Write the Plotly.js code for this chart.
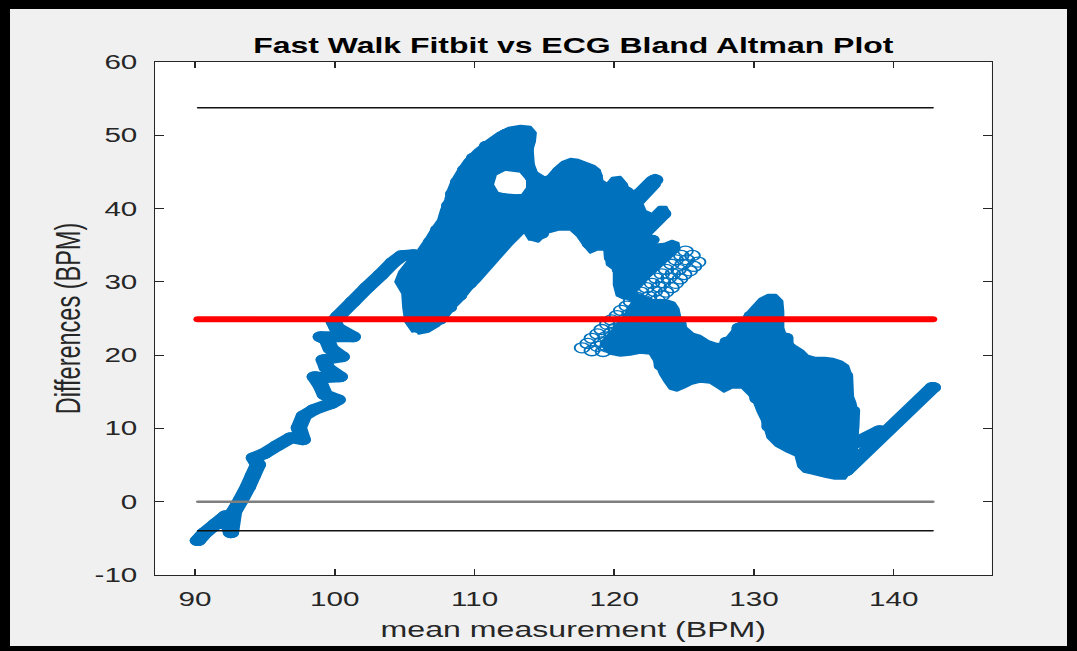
<!DOCTYPE html>
<html>
<head>
<meta charset="utf-8">
<script src="https://cdn.plot.ly/plotly-3.0.1.min.js"></script>
<style>
html,body{margin:0;padding:0;background:#000;width:1077px;height:651px;overflow:hidden;}
#frame{position:absolute;left:10px;top:9px;width:1057px;height:637px;background:#f0f0f0;overflow:hidden;}
#chart{position:absolute;left:0;top:0;width:714px;height:637px;transform:scaleX(1.4804);transform-origin:0 0;}
path.js-line{stroke-linejoin:round !important;stroke-linecap:round !important;}
path.js-fill{fill-rule:nonzero !important;}
</style>
</head>
<body>
<div id="frame"><div id="chart"></div></div>
<script>
// Title and axis texts
const chartTitle = 'Fast Walk Fitbit vs ECG Bland Altman Plot';
const xLabel = 'mean measurement (BPM)';
const yLabel = 'Differences (BPM)';
const xTicks = [90, 100, 110, 120, 130, 140];
const yTicks = [-10, 0, 10, 20, 30, 40, 50, 60];

// Bland-Altman statistics
const meanDifference = 24.9;
const upperLimit = 53.75;
const lowerLimit = -3.95;
const zeroLevel = 0;

// Trajectory of (mean, difference) samples - narrow parts
const meanThin = [90.2, 90.71, 91.5, 92.21, 92.57, 92.79, 93.29, 93.79, 94.14, 94.5, 94.21, 94.93, 95.86, 96.86, 97.71, 97.43, 97.79, 98.5, 99.71, 100.21, 99.29, 99.0, 98.57, 99.14, 100.36, 99.43, 99.21, 100.5, 99.71, 99.43, 99.0, 100.07, 101.29, 100.14, 99.93, 100.29, 101.29, 102.29, 103.29, 104.14, 104.79, 105.64, null, 121.14, 122.93, null, 122.07, 123.5, null, 122.57, 124.14, null, 137.29, 139.0, null, 136.57, 142.8];
const diffThin = [-5.3, -4.23, -3.0, -1.91, -4.23, -1.36, 0.27, 2.05, 3.55, 5.05, 6.0, 6.55, 7.64, 8.73, 8.46, 10.1, 11.73, 12.55, 13.37, 13.92, 14.6, 15.83, 17.05, 16.92, 17.05, 18.28, 19.37, 19.78, 20.87, 22.1, 22.51, 22.51, 22.51, 23.74, 24.56, 25.38, 27.29, 29.2, 30.97, 32.61, 33.56, 33.7, null, 40.38, 43.93, null, 36.56, 39.29, null, 32.33, 34.65, null, 8.05, 9.69, null, 4.23, 15.6];

// Trajectory of (mean, difference) samples - dense parts
const meanWide = [106.07, 107.5, 105.5, 108.21, 105.43, 108.93, 105.29, 109.64, 105.07, 110.36, 105.64, 111.07, 106.29, 111.71, 106.86, 112.36, 107.36, 113.07, 107.93, 113.79, 108.14, 114.14, 108.43, 110.93, 108.79, 110.93, 109.29, 112.21, 109.93, 112.93, 110.86, 113.57, 112.29, 113.43,
  113.71, 113.79, 114.14, 114.71,
  114.79, 115.21, 115.64, 116.07, 116.5, 116.93, 117.36, 117.79, 118.21, 118.64, 119.07, 119.36, 119.79, 120.14,
  120.86, 119.64, 121.43, 119.64, 122.0, 119.71, 122.21, 119.79, 122.71, 119.93, 123.0, 120.0, 122.21, 120.36, 121.79, 120.57, 121.29, 120.64,
  122.21,
  119.5, 119.93, 120.36, 120.79, 121.21, 121.64, 122.07, 122.5, 122.93, 123.36, 123.79, 124.21, 124.64, 125.07, 125.5, 125.93,
  126.36, 126.79, 127.21, 127.64, 128.07, 128.5, 128.93, 129.36, 129.79, 130.21, 130.64, 131.07, 131.43, 131.86, 132.29, 132.71, 133.14, 133.57, 134.0, 134.43, 134.86, 135.29, 135.71, 136.14, 136.57, 136.86, 137.07, 136.57];
const diffWide = [24.01, 24.83, 25.65, 26.47, 27.29, 28.1, 28.92, 29.74, 30.56, 31.38, 32.2, 33.02, 33.83, 34.65, 35.47, 36.29, 37.11, 37.93, 38.74, 39.56, 40.38, 41.06, 42.02, 42.84, 43.66, 44.47, 45.29, 46.11, 46.93, 47.75, 48.57, 49.39, 50.2, 50.2,
  48.02, 45.98, 44.2, 43.11,
  36.56, 43.52, 37.93, 45.02, 38.2, 45.43, 37.52, 44.88, 35.2, 44.47, 35.47, 42.84, 33.29, 43.11,
  42.29, 41.47, 40.65, 39.84, 39.02, 38.2, 37.38, 36.56, 35.74, 34.93, 34.11, 33.29, 32.47, 31.65, 30.83, 30.01, 29.2, 28.51,
  27.29,
  21.56, 21.28, 23.33, 21.56, 24.69, 22.24, 25.38, 21.56, 25.51, 18.55, 26.06, 16.37, 24.28, 16.92, 21.96, 17.74,
  21.28, 17.46, 20.46, 16.37, 21.83, 16.78, 23.74, 16.37, 25.38, 14.05, 26.74, 10.23, 26.88, 8.59, 22.37, 7.91, 19.51, 5.59, 18.83, 5.05, 18.28, 4.5, 18.01, 4.09, 17.19, 4.91, 12.41, 4.23];

// Outer envelope of the densely overlapping sample clouds
const meanCloud = [105.57, 105.07, 104.93, 104.86, 104.36, 104.64, 105.43, 106.0, 106.5, 106.93, 107.43, 107.64, 107.93, 108.14, 108.43, 108.86, 109.36, 110.07, 111.0, 111.71, 112.43, 113.29, 114.0, 114.36, 114.29, 114.07, 114.07,
  113.79, 113.29, 112.21, 111.5, 111.29, 111.64, 112.57, 113.43, 113.79, 113.79, 114.07,
  114.36, 115.07, 115.29, 115.07, 114.71, 114.43, 114.36, 113.93, 113.57, 113.14, 112.57, 112.0, 111.43, 110.86, 110.29, 109.71, 109.14, 108.57, 108.0, 107.43, 106.71, 106.0,
  null,
  114.36, 114.71, 115.29, 115.79, 116.29, 116.86, 117.43, 118.0, 118.57, 118.93, 119.14, 119.5, 119.86, 120.43, 120.86, 121.07,
  121.57, 122.43, 122.93, 123.29, 123.21, 122.0, 122.21, 122.71, 123.21, 123.71, 123.93, 123.57, 122.57, 122.71, 123.57, 124.14, 124.57, 124.64, 124.0, 123.07,
  122.43, 121.86, 121.29, 120.71, 120.21, 120.0, 120.0, 119.5, 119.36, 118.79, 118.29, 117.86, 117.36, 116.86, 116.0, 115.21, 114.57, 114.07, 113.86, 114.0,
  null,
  119.29, 119.43, 119.86, 120.29, 120.71, 121.0, 121.36, 121.86, 122.57, 123.29, 123.86, 124.29, 124.57, 124.71, 125.14, 125.64, 126.14, 126.71, 127.29, 127.71,
  128.29, 129.0, 129.71, 130.43, 131.0, 131.57, 132.0, 132.07, 132.07, 132.36, 132.93, 133.5, 133.86, 134.36, 135.07, 135.64, 136.29, 136.71, 136.93, 136.86,
  137.21, 137.43, 137.43, 137.21, 137.07, 136.86, 136.5, 135.79, 135.07, 134.21, 133.57, 133.21, 133.0, 132.36, 131.57, 131.0, 130.71, 130.29, 130.07, 129.71,
  129.14, 128.43, 127.86, 127.43, 126.86, 126.14, 125.57, 125.0, 124.5, 124.0, 123.64, 123.29, 123.0, 122.57, 121.86, 121.14, 120.43, 119.71, 119.29];
const diffCloud = [23.19, 24.56, 26.47, 28.38, 30.01, 31.38, 33.29, 34.38, 35.74, 37.11, 38.47, 39.84, 41.2, 42.57, 43.93, 45.29, 46.66, 48.02, 49.39, 50.34, 51.02, 51.3, 51.16, 50.34, 49.11, 47.75, 46.38,
  43.93, 45.02, 45.29, 44.61, 43.25, 42.16, 41.75, 41.88, 42.84, 43.93, 46.38,
  45.02, 44.2, 42.57, 40.52, 39.15, 37.79, 36.02, 35.74, 36.83, 36.02, 34.93, 33.7, 32.47, 31.24, 30.01, 28.92, 27.56, 26.47, 25.1, 24.01, 23.19, 22.92,
  null,
  41.88, 43.93, 44.47, 45.57, 46.38, 46.79, 46.66, 46.25, 45.84, 45.29, 43.79, 43.38, 44.2, 44.34, 43.38, 42.16,
  42.57, 44.2, 44.61, 44.07, 43.11, 40.65, 39.7, 39.29, 40.25, 40.25, 39.43, 38.47, 36.56, 35.06, 35.2, 35.61, 35.33, 34.38, 33.29, 31.65,
  30.56, 29.33, 28.24, 27.69, 28.1, 29.6, 31.65, 32.33, 34.38, 34.38, 33.97, 34.93, 36.29, 37.11, 37.11, 36.7, 35.47, 35.74, 37.38, 39.84,
  null,
  21.01, 21.83, 22.92, 24.01, 25.1, 26.47, 27.29, 27.56, 27.29, 27.56, 27.42, 27.15, 26.33, 25.1, 23.74, 22.92, 22.65, 21.96, 21.56, 21.56,
  22.92, 24.56, 26.19, 27.69, 28.24, 28.24, 27.42, 25.92, 23.74, 22.1, 21.28, 20.6, 19.92, 19.65, 19.65, 19.51, 19.1, 18.55, 17.33, 15.28,
  13.64, 11.87, 10.1, 7.78, 5.73, 4.09, 3.14, 3.14, 3.41, 3.82, 4.09, 4.77, 6.28, 6.82, 7.64, 8.73, 10.64, 12.28, 13.37, 14.46,
  15.55, 15.55, 15.01, 15.55, 16.23, 16.37, 16.1, 15.55, 15.14, 15.42, 16.37, 17.46, 18.83, 20.19, 20.33, 20.05, 19.92, 20.19, 20.74];

// Separately visible samples (hollow circles)
const meanRings = [117.7, 118.1, 118.4, 118.8, 119.1, 119.5, 119.8, 120.2, 120.5, 120.9, 121.2, 121.6, 121.9, 122.3, 122.7, 123.0, 123.4, 123.7, 124.1, 124.4, 124.8, 125.1,
  118.4, 118.8, 119.1, 119.4, 119.8, 120.1, 120.5, 120.8, 121.1, 121.5, 121.8, 122.2, 122.5, 122.9, 123.2, 123.5, 123.9, 124.2, 124.6, 124.9, 125.2, 125.6,
  119.2, 119.5, 119.9, 120.2, 120.5, 120.8, 121.1, 121.5, 121.8, 122.1, 122.4, 122.8, 123.1, 123.4, 123.7, 124.1, 124.4, 124.7, 125.0, 125.4, 125.7, 126.0];
const diffRings = [21.0, 21.6, 22.3, 22.9, 23.5, 24.2, 24.8, 25.4, 26.1, 26.7, 27.3, 27.9, 28.6, 29.2, 29.8, 30.5, 31.1, 31.7, 32.4, 33.0, 33.6, 34.2,
  20.6, 21.2, 21.8, 22.5, 23.1, 23.7, 24.3, 24.9, 25.6, 26.2, 26.8, 27.4, 28.0, 28.7, 29.3, 29.9, 30.5, 31.1, 31.7, 32.4, 33.0, 33.6,
  20.5, 21.1, 21.7, 22.2, 22.8, 23.4, 24.0, 24.6, 25.1, 25.7, 26.3, 26.9, 27.5, 28.1, 28.6, 29.2, 29.8, 30.4, 31.0, 31.5, 32.1, 32.7];

const blue = '#0072BD';
const allMeans = meanThin.concat(meanWide, meanRings).filter(v => v !== null);
const xMin = Math.min(...allMeans);
const xMax = Math.max(...allMeans);
const lineX = [xMin, xMax];

const font = 'Liberation Sans, Arial, Helvetica, sans-serif';

const traces = [
  {x: meanCloud, y: diffCloud, type: 'scatter', mode: 'lines', fill: 'toself', fillcolor: blue,
   line: {color: blue, width: 2, simplify: false}, hoverinfo: 'skip'},
  {x: meanWide, y: diffWide, type: 'scatter', mode: 'lines+markers',
   line: {color: blue, width: 10, simplify: false},
   marker: {symbol: 'circle', size: 10, color: blue, line: {width: 0}}, hoverinfo: 'skip'},
  {x: meanThin, y: diffThin, type: 'scatter', mode: 'lines+markers',
   line: {color: blue, width: 11, simplify: false},
   marker: {symbol: 'circle', size: 11, color: blue, line: {width: 0}}, hoverinfo: 'skip'},
  {x: meanRings, y: diffRings, type: 'scatter', mode: 'markers',
   marker: {symbol: 'circle-open', size: 10, color: blue, line: {width: 1.3, color: blue}}, hoverinfo: 'skip'},
  {x: lineX, y: [zeroLevel, zeroLevel], type: 'scatter', mode: 'lines',
   line: {color: '#7f7f7f', width: 2.5}},
  {x: lineX, y: [upperLimit, upperLimit], type: 'scatter', mode: 'lines',
   line: {color: '#111111', width: 1.5}},
  {x: lineX, y: [lowerLimit, lowerLimit], type: 'scatter', mode: 'lines',
   line: {color: '#111111', width: 1.5}},
  {x: lineX, y: [meanDifference, meanDifference], type: 'scatter', mode: 'lines',
   line: {color: '#ff0000', width: 6}}
];

const axisCommon = {
  ticks: 'inside', ticklen: 6, tickwidth: 1, tickcolor: '#262626',
  showline: true, linecolor: '#262626', linewidth: 1, mirror: 'ticks',
  showgrid: false, zeroline: false,
  tickfont: {family: font, size: 20, color: '#262626'}
};

const layout = {
  width: 714, height: 637,
  margin: {l: 98, r: 51, t: 53, b: 71, pad: 0},
  paper_bgcolor: '#f0f0f0', plot_bgcolor: '#ffffff',
  showlegend: false,
  title: {text: '<b>' + chartTitle + '</b>', font: {family: font, size: 21.6, color: '#000000'},
          x: 0.5, xref: 'paper', xanchor: 'center', y: 1, yref: 'paper', yanchor: 'bottom', pad: {b: 9}},
  xaxis: Object.assign({}, axisCommon, {
    range: [87.14, 147.0], tickvals: xTicks, ticktext: xTicks.map(String), ticklabelstandoff: 6,
    title: {text: xLabel, font: {family: font, size: 21.7, color: '#262626'}, standoff: 12}
  }),
  yaxis: Object.assign({}, axisCommon, {
    range: [-10, 60], tickvals: yTicks, ticktext: yTicks.map(String), ticklabelstandoff: 7,
    title: {text: yLabel, font: {family: font, size: 23.5, color: '#262626'}, standoff: 2}
  })
};

Plotly.newPlot('chart', traces, layout, {displayModeBar: false, staticPlot: true});
</script>
</body>
</html>
